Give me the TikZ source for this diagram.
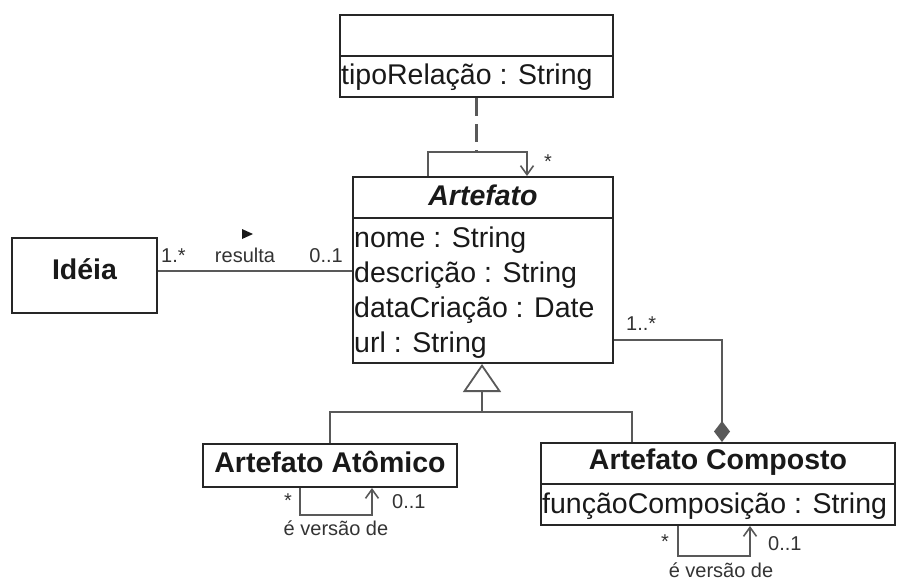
\documentclass[tikz,border=0pt]{standalone}
\usepackage{fontspec}
\setmainfont{Liberation Sans}
\usetikzlibrary{arrows.meta,calc}
\begin{document}
\begin{tikzpicture}[x=1pt,y=-1pt,
  box/.style={draw=black!85, line width=2pt, inner sep=0pt, rectangle},
  divider/.style={draw=black!85, line width=2pt},
  big/.style={font=\fontsize{28.5}{32}\selectfont, inner sep=0pt, text=black!90},
  bigb/.style={font=\fontsize{28.5}{32}\selectfont\bfseries, inner sep=0pt, text=black!90},
  small/.style={font=\fontsize{20}{22}\selectfont, inner sep=0pt, text=black!80},
  conn/.style={draw=black!65, line width=2.2pt},
  barb/.style={-{Straight Barb[length=9pt,width=13pt,line width=1.6pt]}},
]
\useasboundingbox (0,0) rectangle (897,581);

% boxes
\node[box, minimum width=273pt, minimum height=82pt] (rel) at (476.5,56) {};
\node[box, minimum width=260pt, minimum height=186pt] (art) at (483,270) {};
\node[box, minimum width=145pt, minimum height=75pt] (idea) at (84.5,275.5) {};
\node[box, minimum width=254pt, minimum height=43pt] (ato) at (330,465.5) {};
\node[box, minimum width=354pt, minimum height=82pt] (comp) at (718,484) {};

% dividers
\draw[divider] (rel.west) -- (rel.east);
\draw[divider] (art.north west |- 0,218) -- (art.north east |- 0,218);
\draw[divider] (comp.west) -- (comp.east);

% texts
\node[big, anchor=base west] (relattr) at (341,84) {tipoRelação : String};
\node[bigb, anchor=base, font=\fontsize{28.5}{32}\selectfont\bfseries\itshape] (arttitle) at (483,205) {Artefato};
\node[big, anchor=base west] (a1) at (354,247) {nome : String};
\node[big, anchor=base west] (a2) at (354,282) {descrição : String};
\node[big, anchor=base west] (a3) at (354,317) {dataCriação : Date};
\node[big, anchor=base west] (a4) at (354,352) {url : String};
\node[bigb, anchor=base] (ideatitle) at (84.5,279) {Idéia};
\node[bigb, anchor=base] (atotitle) at (330,472) {Artefato Atômico};
\node[bigb, anchor=base] (comptitle) at (718,469) {Artefato Composto};
\node[big, anchor=base west] (compattr) at (542,513) {funçãoComposição : String};

% association labels
\node[small, anchor=base west] (m1) at (161,262) {1.*};
\node[small, anchor=base] (resulta) at (245,262) {resulta};
\node[small, anchor=base east] (m2) at (343,262) {0..1};
\fill[black!90] (242,229) -- (253,234) -- (242,239) -- cycle;
\node[small, anchor=base] (m3) at (548,168) {*};
\node[small, anchor=base west] (m4) at (626,330) {1..*};
\node[small, anchor=base] (m5) at (288,507) {*};
\node[small, anchor=base west] (m6) at (392,508) {0..1};
\node[small, anchor=base] (v1) at (336,535) {é versão de};
\node[small, anchor=base] (m7) at (665,548) {*};
\node[small, anchor=base west] (m8) at (768,550) {0..1};
\node[small, anchor=base] (v2) at (721,577) {é versão de};

% connectors
\draw[conn, barb] ([xshift=-55pt]art.north) -- ++(0,-24) coordinate (lt1) -| ([xshift=44pt]art.north);
\draw[conn, dash pattern=on 18pt off 8pt] (rel.south) -- (rel.south |- lt1);
\draw[conn] ([yshift=4.5pt]idea.east) -- ([yshift=4.5pt]idea.east -| art.west);
\coordinate (cmp) at ($(art.south east)+(0,-24)$);
\draw[conn, -{Diamond[length=21pt,width=16pt]}] (cmp) -| ([xshift=4pt]comp.north);
\coordinate (gj) at (482,412);
\draw[conn] (ato.north) |- (gj) -| ([xshift=-86pt]comp.north);
\draw[conn, -{Triangle[open, length=28pt, width=38pt, line width=1.8pt]}] (gj) -- (gj |- art.south);
\draw[conn, barb] ([xshift=-30pt]ato.south) -- ++(0,27) -| ([xshift=42pt]ato.south);
\draw[conn, barb] ([xshift=-40pt]comp.south) -- ++(0,30) -| ([xshift=32pt]comp.south);
\end{tikzpicture}
\end{document}
